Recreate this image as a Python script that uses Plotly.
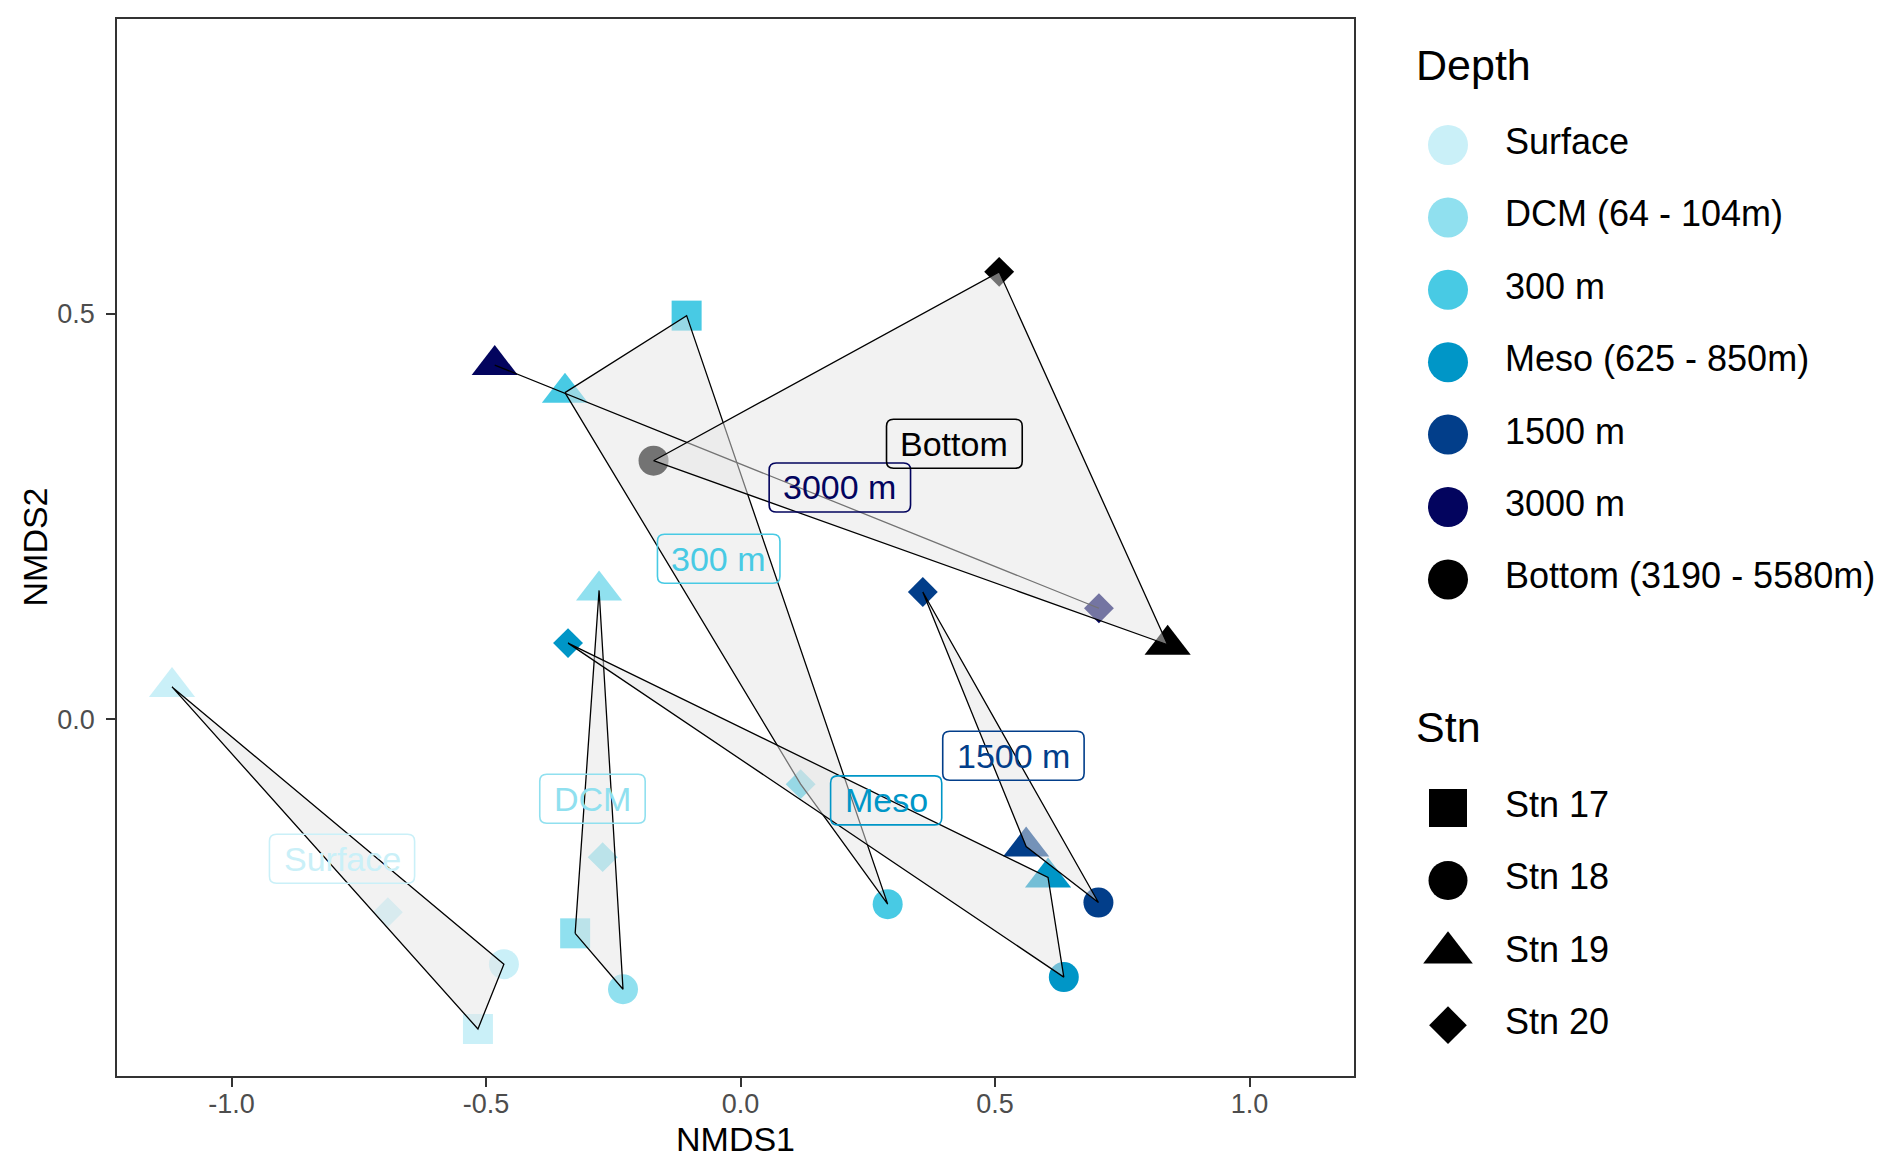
import plotly.graph_objects as go

# ---------------- data ----------------
depth_levels = ["Surface", "DCM (64 - 104m)", "300 m", "Meso (625 - 850m)",
                "1500 m", "3000 m", "Bottom (3190 - 5580m)"]
depth_short = ["Surface", "DCM", "300 m", "Meso", "1500 m", "3000 m", "Bottom"]
depth_colors = ["#CAF0F8", "#90E0EF", "#48CAE4", "#0096C7", "#023E8A", "#03045E", "#000000"]
stn_levels = ["Stn 17", "Stn 18", "Stn 19", "Stn 20"]

sample_depth = ["Surface", "Surface", "Surface", "Surface",
                "DCM", "DCM", "DCM", "DCM",
                "300 m", "300 m", "300 m", "300 m",
                "Meso", "Meso", "Meso",
                "1500 m", "1500 m", "1500 m",
                "3000 m", "3000 m",
                "Bottom", "Bottom", "Bottom"]
sample_stn = ["Stn 17", "Stn 18", "Stn 19", "Stn 20",
              "Stn 17", "Stn 18", "Stn 19", "Stn 20",
              "Stn 17", "Stn 18", "Stn 19", "Stn 20",
              "Stn 18", "Stn 19", "Stn 20",
              "Stn 18", "Stn 19", "Stn 20",
              "Stn 19", "Stn 20",
              "Stn 18", "Stn 19", "Stn 20"]
nmds1 = [-0.516, -0.465, -1.117, -0.693,
         -0.325, -0.231, -0.278, -0.271,
         -0.106, 0.289, -0.345, 0.118,
         0.635, 0.604, -0.339,
         0.703, 0.561, 0.358,
         -0.483, 0.704,
         -0.171, 0.839, 0.508]
nmds2 = [-0.382, -0.302, 0.040, -0.238,
         -0.264, -0.333, 0.159, -0.170,
         0.498, -0.228, 0.403, -0.080,
         -0.318, -0.195, 0.094,
         -0.226, -0.157, 0.157,
         0.437, 0.137,
         0.319, 0.092, 0.552]

# label positions (repelled labels)
label_x = [-0.783, -0.291, -0.043, 0.286, 0.536, 0.195, 0.420]
label_y = [-0.172, -0.098, 0.198, -0.100, -0.045, 0.286, 0.340]

x_ticks = [-1.0, -0.5, 0.0, 0.5, 1.0]
y_ticks = [0.0, 0.5]

# ---------------- style ----------------
FONT = "Liberation Sans, Arial, sans-serif"
WIN_W, WIN_H = 1892, 1174
OFF = 8                      # default page body margin
W, H = WIN_W - 2 * OFF, WIN_H - 2 * OFF
PLOT_L, PLOT_R, PLOT_T, PLOT_B = 117, 1354, 19, 1076   # in window pixels
X_RANGE = [-1.2251, 1.2051]
Y_RANGE = [-0.440, 0.8639]
stn_symbol = {"Stn 17": "square", "Stn 18": "circle", "Stn 19": "triangle-up", "Stn 20": "diamond"}
stn_size_plot = {"Stn 17": 30, "Stn 18": 30, "Stn 19": 40, "Stn 20": 23}
stn_size_leg = {"Stn 17": 38, "Stn 18": 39, "Stn 19": 43, "Stn 20": 29}
HULL_FILL = "rgba(229,229,229,0.5)"
LABEL_FONT = 34
ARIAL_W = {"S": 667, "u": 556, "r": 333, "f": 278, "a": 556, "c": 500, "e": 556,
           "D": 722, "C": 722, "M": 833, " ": 278, "m": 833, "s": 500, "o": 556,
           "B": 667, "t": 278}
for d in "0123456789":
    ARIAL_W[d] = 556


def px(xw):
    return (xw - OFF) / W


def py(yw):
    return 1 - (yw - OFF) / H


def text_width(s, size):
    return sum(ARIAL_W.get(ch, 556) for ch in s) * size / 1000.0


def rounded_rect_path(w, h, r):
    a, b = w / 2, h / 2
    return (f"M {-a + r},{-b} L {a - r},{-b} Q {a},{-b} {a},{-b + r} "
            f"L {a},{b - r} Q {a},{b} {a - r},{b} "
            f"L {-a + r},{b} Q {-a},{b} {-a},{b - r} "
            f"L {-a},{-b + r} Q {-a},{-b} {-a + r},{-b} Z")


def convex_hull(pts):
    pts = sorted(set(pts))
    if len(pts) <= 2:
        return pts
    def cross(o, a, b):
        return (a[0] - o[0]) * (b[1] - o[1]) - (a[1] - o[1]) * (b[0] - o[0])
    lower, upper = [], []
    for p in pts:
        while len(lower) >= 2 and cross(lower[-2], lower[-1], p) <= 0:
            lower.pop()
        lower.append(p)
    for p in reversed(pts):
        while len(upper) >= 2 and cross(upper[-2], upper[-1], p) <= 0:
            upper.pop()
        upper.append(p)
    return lower[:-1] + upper[:-1]


fig = go.Figure()

# ---- points (drawn first; hulls overlay them) ----
for short, col in zip(depth_short, depth_colors):
    idx = [i for i, d in enumerate(sample_depth) if d == short]
    fig.add_trace(go.Scatter(
        x=[nmds1[i] for i in idx], y=[nmds2[i] for i in idx],
        mode="markers", showlegend=False, hoverinfo="skip",
        marker=dict(color=col, opacity=1,
                    symbol=[stn_symbol[sample_stn[i]] for i in idx],
                    size=[stn_size_plot[sample_stn[i]] for i in idx],
                    line=dict(width=0))))

# ---- convex hulls ----
for short in depth_short:
    pts = [(nmds1[i], nmds2[i]) for i, d in enumerate(sample_depth) if d == short]
    hull = convex_hull(pts)
    hx = [p[0] for p in hull] + [hull[0][0]]
    hy = [p[1] for p in hull] + [hull[0][1]]
    fig.add_trace(go.Scatter(
        x=hx, y=hy, mode="lines", fill="toself", fillcolor=HULL_FILL,
        line=dict(color="black", width=1.3), showlegend=False, hoverinfo="skip"))

# ---- group labels (rounded boxes + text) ----
annotations = []
shapes = []
PAD_H = 14
BOX_H = 49
BOX_R = 7
for s, col, lx, ly in zip(depth_short, depth_colors, label_x, label_y):
    box_w = text_width(s, LABEL_FONT) + 2 * PAD_H
    shapes.append(dict(type="path", xref="x", yref="y", xsizemode="pixel", ysizemode="pixel",
                       xanchor=lx, yanchor=ly, path=rounded_rect_path(box_w, BOX_H, BOX_R),
                       line=dict(color=col, width=1.6), fillcolor="rgba(0,0,0,0)",
                       layer="above"))
    annotations.append(dict(
        x=lx, y=ly, xref="x", yref="y", text=s, showarrow=False,
        xanchor="center", yanchor="middle",
        font=dict(family=FONT, size=LABEL_FONT, color=col)))

# ---- manual legend on a window-pixel helper axis ----
LEG_X_MARK, LEG_X_TEXT, LEG_X_TITLE = 1448, 1505, 1414
DEPTH_TITLE_Y, DEPTH_Y0 = 65, 145
STN_TITLE_Y, STN_Y0 = 727, 808
STEP = 72.4
LEG_FONT = 36
LEG_LEFT = 1380

dy = [DEPTH_Y0 + i * STEP for i in range(len(depth_levels))]
fig.add_trace(go.Scatter(
    x=[LEG_X_MARK] * len(depth_levels), y=dy, xaxis="x2", yaxis="y2",
    mode="markers", showlegend=False, hoverinfo="skip",
    marker=dict(color=depth_colors, symbol="circle", size=40, opacity=1, line=dict(width=0))))
fig.add_trace(go.Scatter(
    x=[LEG_X_TEXT] * len(depth_levels), y=dy, xaxis="x2", yaxis="y2",
    mode="text", text=depth_levels, textposition="middle right",
    textfont=dict(family=FONT, size=LEG_FONT, color="black"),
    showlegend=False, hoverinfo="skip"))

sy = [STN_Y0 + i * STEP for i in range(len(stn_levels))]
fig.add_trace(go.Scatter(
    x=[LEG_X_MARK] * len(stn_levels), y=sy, xaxis="x2", yaxis="y2",
    mode="markers", showlegend=False, hoverinfo="skip",
    marker=dict(color="black", opacity=1, symbol=[stn_symbol[s] for s in stn_levels],
                size=[stn_size_leg[s] for s in stn_levels], line=dict(width=0))))
fig.add_trace(go.Scatter(
    x=[LEG_X_TEXT] * len(stn_levels), y=sy, xaxis="x2", yaxis="y2",
    mode="text", text=stn_levels, textposition="middle right",
    textfont=dict(family=FONT, size=LEG_FONT, color="black"),
    showlegend=False, hoverinfo="skip"))

for title, ty in [("Depth", DEPTH_TITLE_Y), ("Stn", STN_TITLE_Y)]:
    annotations.append(dict(x=LEG_X_TITLE, y=ty, xref="x2", yref="y2", text=title,
                            showarrow=False, xanchor="left", yanchor="middle",
                            font=dict(family=FONT, size=43, color="black")))

# ---- axis titles ----
annotations.append(dict(x=px((PLOT_L + PLOT_R) / 2), y=py(1139), xref="paper", yref="paper",
                        text="NMDS1", showarrow=False, xanchor="center", yanchor="middle",
                        font=dict(family=FONT, size=34, color="black")))
annotations.append(dict(x=px(34), y=py((PLOT_T + PLOT_B) / 2), xref="paper", yref="paper",
                        text="NMDS2", showarrow=False, xanchor="center", yanchor="middle",
                        textangle=-90, font=dict(family=FONT, size=34, color="black")))

axis_common = dict(showgrid=False, zeroline=False, showline=True, mirror=True,
                   linecolor="#333333", linewidth=1.5, ticks="outside", ticklen=9,
                   tickwidth=1.5, tickcolor="#333333",
                   tickfont=dict(family=FONT, size=27, color="#4D4D4D"))

fig.update_layout(
    width=W, height=H,
    margin=dict(l=0, r=0, t=0, b=0),
    paper_bgcolor="white", plot_bgcolor="white",
    font=dict(family=FONT),
    showlegend=False,
    xaxis=dict(domain=[px(PLOT_L), px(PLOT_R)], range=X_RANGE,
               tickvals=x_ticks, ticktext=[f"{v:.1f}" for v in x_ticks],
               ticklabelstandoff=-6, **axis_common),
    yaxis=dict(domain=[py(PLOT_B), py(PLOT_T)], range=Y_RANGE,
               tickvals=y_ticks, ticktext=[f"{v:.1f}" for v in y_ticks],
               ticklabelstandoff=6, **axis_common),
    xaxis2=dict(domain=[px(LEG_LEFT), 1.0], range=[LEG_LEFT, OFF + W], visible=False,
                anchor="y2", fixedrange=True),
    yaxis2=dict(domain=[0.0, 1.0], range=[OFF + H, OFF], visible=False, anchor="x2",
                fixedrange=True),
    shapes=shapes,
    annotations=annotations,
)

fig.write_html("out.html")
